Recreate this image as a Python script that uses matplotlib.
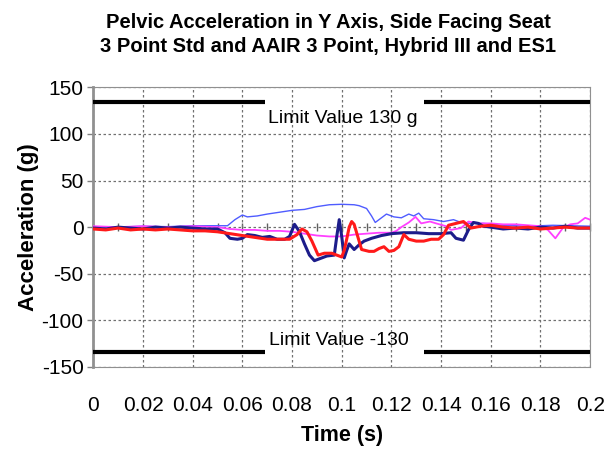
import matplotlib.pyplot as plt
import numpy as np

plt.rcParams['font.family'] = ['Liberation Sans', 'DejaVu Sans']
plt.rcParams['axes.unicode_minus'] = False

# light blue thin trace
t_lb = [0, 0.01, 0.02, 0.03, 0.04, 0.05, 0.054, 0.057, 0.060, 0.062, 0.066, 0.07, 0.075,
        0.08, 0.085, 0.09, 0.095, 0.1, 0.105, 0.107, 0.110, 0.112, 0.1135, 0.116, 0.118,
        0.121, 0.124, 0.127, 0.129, 0.131, 0.133, 0.137, 0.141, 0.145, 0.148, 0.152,
        0.157, 0.165, 0.175, 0.185, 0.2]
a_lb = [0.5, 0, 1, 0.5, 1.5, 1.5, 1.5, 8, 13, 11, 12, 14, 16,
        18, 19, 22, 24, 24.5, 24, 23, 20, 12, 5, 10, 14,
        11, 10, 14, 12, 15, 9, 8, 6, 8, 5, 4,
        4, 2, 1, 2, 1]

# navy thick trace
t_nv = [0, 0.005, 0.01, 0.015, 0.02, 0.025, 0.03, 0.035, 0.04, 0.045, 0.05, 0.053, 0.055,
        0.058, 0.06, 0.062, 0.065, 0.068, 0.071, 0.074, 0.077, 0.079, 0.081, 0.083, 0.085,
        0.087, 0.089, 0.091, 0.094, 0.097, 0.098, 0.099, 0.100, 0.101, 0.102, 0.103, 0.105,
        0.107, 0.109, 0.112, 0.116, 0.12, 0.125, 0.13, 0.135, 0.14, 0.144, 0.146, 0.149,
        0.151, 0.153, 0.155, 0.157, 0.16, 0.165, 0.17, 0.175, 0.18, 0.185, 0.19, 0.195, 0.2]
a_nv = [-1, -2, 0, -1, -2, 0, -1, 0, -1, -2, -2, -6, -12,
        -13, -12, -8, -9, -11, -10, -13, -13, -10, 3, -5, -18,
        -30, -36, -34, -31, -30, -10, 8, -10, -33, -25, -18, -24,
        -19, -15, -12, -9, -7, -6, -6, -7, -7, -6, -12, -14,
        -3, 5, 4, 1, 0, -2, -1, -2, 0, -1, 1, -1, -1]

# red thick trace
t_rd = [0, 0.005, 0.01, 0.015, 0.02, 0.025, 0.03, 0.035, 0.04, 0.045, 0.05, 0.055, 0.06,
        0.065, 0.07, 0.075, 0.079, 0.082, 0.084, 0.086, 0.088, 0.0905, 0.093, 0.096, 0.1,
        0.101, 0.102, 0.103, 0.104, 0.105, 0.106, 0.108, 0.111, 0.113, 0.115, 0.117, 0.119,
        0.121, 0.123, 0.125, 0.127, 0.13, 0.133, 0.136, 0.139, 0.141, 0.143, 0.146, 0.149,
        0.152, 0.156, 0.16, 0.165, 0.17, 0.175, 0.18, 0.185, 0.19, 0.195, 0.2]
a_rd = [-2, -3, -1, -3, -2, -3, -2, -3, -4, -4, -5, -7, -9,
        -11, -13, -13, -13, -8, -2, -5, -15, -30, -28, -28, -32,
        -25, -13, 0, 6, 3, -6, -24, -26, -26, -23, -21, -26,
        -25, -21, -8, -13, -15, -15, -13, -13, -8, 2, 4, 6,
        -1, 1, 2, 0, -1, 0, -2, -1, 0, -1, -1]

# magenta trace
t_mg = [0, 0.01, 0.02, 0.03, 0.04, 0.05, 0.055, 0.06, 0.065, 0.07, 0.075, 0.08, 0.085,
        0.09, 0.095, 0.1, 0.105, 0.11, 0.115, 0.12, 0.122, 0.124, 0.127, 0.1297, 0.132,
        0.1355, 0.138, 0.14, 0.142, 0.144, 0.146, 0.148, 0.151, 0.155, 0.16, 0.165, 0.17,
        0.175, 0.18, 0.183, 0.186, 0.189, 0.192, 0.195, 0.198, 0.2]
a_mg = [1, 0, 1, 0, 1, 0, -2, -3, -3, -4, -4, -5, -7,
        -9, -10, -10, -8, -7, -6, -6, -4, 0, 5, 11, 4,
        6, 4, 2.5, 1, -3, -2, -1, 6, 4, 4, 3, 3,
        2, 1, -3, -12, -1, 3, 4, 10, 8]

limit = 134
limit_gaps = (0.069, 0.133)

fig = plt.figure(figsize=(6.16, 4.57), dpi=100)
ax = fig.add_axes([0.1515, 0.197, 0.8065, 0.612])

ax.plot(t_lb, a_lb, color='#4f5cff', lw=1.0, zorder=3)
ax.plot(t_mg, a_mg, color='#ff40ff', lw=1.3, zorder=3)
ax.plot(t_nv, a_nv, color='#1c1c8a', lw=2.2, zorder=4)
ax.plot(t_rd, a_rd, color='#ff1a1a', lw=2.2, zorder=5)

# limit lines with text gap
for v in (limit, -limit):
    ax.plot([0, limit_gaps[0]], [v, v], color='black', lw=3, solid_capstyle='butt', zorder=6)
    ax.plot([limit_gaps[1], 0.2], [v, v], color='black', lw=3, solid_capstyle='butt', zorder=6)
ax.text(0.1006, 117, 'Limit Value 130 g', ha='center', va='center', fontsize=14)
ax.text(0.0988, -122, 'Limit Value -130', ha='center', va='center', fontsize=14)

ax.set_xlim(0, 0.2)
ax.set_ylim(-150, 150)
ax.set_xticks(np.arange(0, 0.201, 0.02))
ax.set_xticklabels(['0', '0.02', '0.04', '0.06', '0.08', '0.1', '0.12', '0.14', '0.16', '0.18', '0.2'])
ax.set_yticks(np.arange(-150, 151, 50))
ax.tick_params(axis='x', length=0, pad=21, labelsize=15)
ax.tick_params(axis='y', length=4, width=1, color='#808080', labelsize=15, pad=3)

ax.grid(True, color='#707070', ls=(0, (2, 2)), lw=0.9)
for s in ['top', 'right', 'bottom']:
    ax.spines[s].set_color('#909090')
    ax.spines[s].set_linewidth(0.8)
ax.spines['left'].set_color('#909090')
ax.spines['left'].set_linewidth(2)

# zero axis line with minor ticks
sec = ax.secondary_xaxis(0.5)
sec.set_xticks(np.arange(0, 0.201, 0.01))
sec.tick_params(axis='x', direction='inout', length=6, width=1, color='#606060', labelbottom=False, labeltop=False)
sec.spines['bottom'].set_color('#b0b0b0')
sec.spines['bottom'].set_linewidth(2.5)
sec.spines['top'].set_visible(False)

ax.set_xlabel('Time (s)', fontsize=15.5, fontweight='bold', labelpad=7)
ax.set_ylabel('Acceleration (g)', fontsize=16, fontweight='bold', labelpad=2)
fig.text(0.533, 0.925, 'Pelvic Acceleration in Y Axis, Side Facing Seat\n3 Point Std and AAIR 3 Point, Hybrid III and ES1',
         ha='center', va='center', fontsize=14.5, fontweight='bold', linespacing=1.35)

plt.savefig('out.png', dpi=100)
